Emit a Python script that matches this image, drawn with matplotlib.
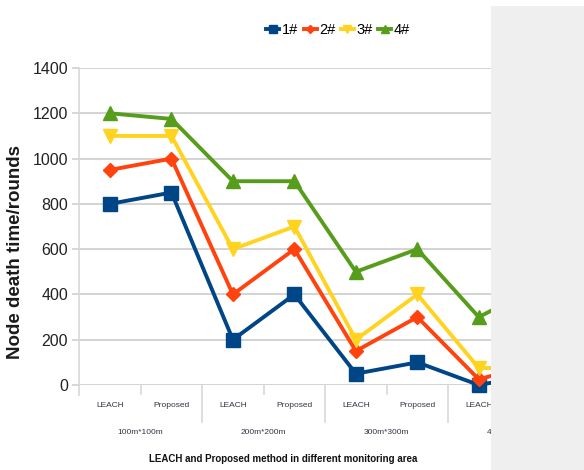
import matplotlib
matplotlib.use("Agg")
import matplotlib.pyplot as plt
from matplotlib.patches import Rectangle
from matplotlib.lines import Line2D

# Categories along the x axis
methods = ["LEACH", "Proposed", "LEACH", "Proposed", "LEACH", "Proposed", "LEACH", "Proposed"]
areas = ["100m*100m", "200m*200m", "300m*300m", "400m*400m"]

# Node death time (rounds) for each node
node1 = [800, 850, 200, 400, 50, 100, 0, 50]
node2 = [950, 1000, 400, 600, 150, 300, 25, 100]
node3 = [1100, 1100, 600, 700, 200, 400, 75, 75]
node4 = [1200, 1175, 900, 900, 500, 600, 300, 440]
series_labels = ["1#", "2#", "3#", "4#"]

y_ticks = [0, 200, 400, 600, 800, 1000, 1200, 1400]

colors = ["#004586", "#ff420e", "#ffd320", "#579d1c"]
markers = ["s", "D", "v", "^"]
msizes = [10, 7, 10, 10]

font = ["Liberation Sans", "DejaVu Sans"]

W, H = 584, 470
fig = plt.figure(figsize=(W / 100, H / 100), dpi=100)

left, right = 79.25, 571.0
y0px, y1px = 385.0, 68.0
ax = fig.add_axes([left / W, (H - y0px) / H, (right - left) / W, (y0px - y1px) / H])

x = list(range(len(methods)))
for vals, c, m, ms, lab in zip([node1, node2, node3, node4], colors, markers, msizes, series_labels):
    ax.plot(x, vals, color=c, lw=2.8, marker=m, ms=ms, mec=c, mfc=c, label=lab,
            solid_joinstyle="miter", zorder=3, clip_on=False)

ax.set_xlim(-0.5, len(methods) - 0.5)
ax.set_ylim(0, 1400)
ax.set_yticks(y_ticks)
ax.set_yticklabels([str(v) for v in y_ticks], family=font, fontsize=11.5, color="#222222")
ax.tick_params(axis="y", length=5, width=1.2, color="#d0d0d0", pad=3)
ax.grid(axis="y", color="#d0d0d0", lw=1.3, zorder=0)

ax.set_xticks(x)
ax.set_xticklabels(methods, family=font, fontsize=6, color="#333344")
ax.tick_params(axis="x", length=0, pad=12)

for s in ["top", "right", "bottom"]:
    ax.spines[s].set_visible(False)
ax.spines["left"].set_color("#d8d8d8")
ax.spines["left"].set_linewidth(1.2)

# Category separators below the axis
xt = ax.get_xaxis_transform()
ax.add_line(Line2D([-0.5, -0.5], [0, -0.03], transform=xt, color="#d8d8d8", lw=1.2, clip_on=False))
for b in [0.5, 2.5, 4.5, 6.5]:
    ax.add_line(Line2D([b, b], [0, -0.028], transform=xt, color="#d8d8d8", lw=1.2, clip_on=False))
for b in [1.5, 3.5, 5.5]:
    ax.add_line(Line2D([b, b], [0, -0.117], transform=xt, color="#d8d8d8", lw=1.2, clip_on=False))

# Area group labels
for i, a in enumerate(areas):
    ax.text(2 * i + 0.5, -0.151, a, transform=xt, ha="center", va="center",
            family=font, fontsize=6, color="#333344", clip_on=False)

fig.text(283.5 / W, (H - 459) / H, "LEACH and Proposed method in different monitoring area",
         ha="center", va="center", family=font, fontsize=7, fontweight="bold", color="#111111")
fig.text(16 / W, (H - 252) / H, "Node death time/rounds", rotation=90,
         ha="center", va="center", family=font, fontsize=13.5, fontweight="bold", color="#1a1a1a")

leg = fig.legend(loc="center", bbox_to_anchor=(338 / W, (H - 30) / H), ncol=4, frameon=False,
                 handlelength=0.9, handletextpad=0.15, columnspacing=0.4,
                 prop={"family": font, "size": 10.5}, markerscale=0.6)

# Side panel
fig.patches.append(Rectangle((491 / W, 0), (W - 491) / W, (H - 6) / H, transform=fig.transFigure,
                             facecolor="#efefef", edgecolor="none", zorder=10))

fig.savefig("out.png", dpi=100)
